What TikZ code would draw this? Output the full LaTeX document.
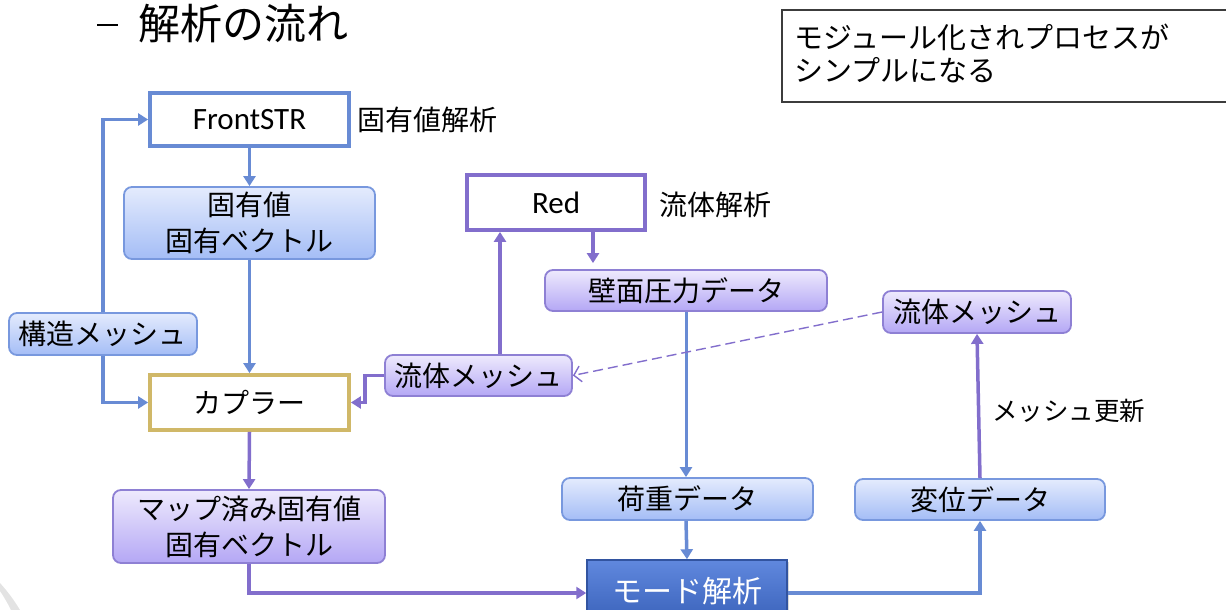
\documentclass[tikz,border=0pt]{standalone}
\usepackage{fontspec}
\setmainfont{Noto Sans CJK JP}
\newfontfamily\lat{Carlito}
\usetikzlibrary{arrows.meta,shadows}
\definecolor{bline}{RGB}{104,139,212}
\definecolor{pline}{RGB}{130,110,204}
\definecolor{btop}{RGB}{228,235,253}
\definecolor{bbot}{RGB}{164,189,246}
\definecolor{bbord}{RGB}{120,152,222}
\definecolor{ptop}{RGB}{238,234,253}
\definecolor{pbot}{RGB}{180,167,245}
\definecolor{pbord}{RGB}{142,128,212}
\definecolor{gold}{RGB}{208,184,104}
\definecolor{modetop}{RGB}{96,136,222}
\definecolor{modebot}{RGB}{58,98,186}
\definecolor{modebord}{RGB}{50,84,160}
\definecolor{notebord}{RGB}{60,60,60}
\tikzset{
  x=1pt, y=-1pt,
  txt/.style={font=\fontsize{28}{36}\selectfont, text=black},
  bbox/.style={draw=bbord, line width=1.8pt, rounded corners=8pt, top color=btop, bottom color=bbot, align=center, inner sep=0pt, txt},
  pbox/.style={draw=pbord, line width=1.8pt, rounded corners=8pt, top color=ptop, bottom color=pbot, align=center, inner sep=0pt, txt},
  plainbox/.style={fill=white, line width=3.8pt, inner sep=0pt, font=\lat\fontsize{31}{36}\selectfont},
  lbl/.style={anchor=west, inner sep=0pt, txt},
  barrow/.style={draw=bline, line width=3.5pt, -{Triangle[length=10pt,width=12pt]}},
  parrow/.style={draw=pline, line width=3.5pt, -{Triangle[length=10pt,width=12pt]}},
}
\begin{document}
\begin{tikzpicture}
\useasboundingbox (0,0) rectangle (1226,610);
\clip (0,0) rectangle (1226,610);

% slide decoration
\fill[gray!22] (0,583) .. controls (8,592) and (14,600) .. (20,610) -- (11,610) .. controls (7,602) and (4,597) .. (0,591) -- cycle;

% title
\node[inner sep=0pt] (dash) at (107.5,25) {\rule{21pt}{2.6pt}};
\node[anchor=west, inner sep=0pt, font=\fontsize{42}{42}\selectfont] (title) at (138,24) {解析の流れ};

% note box
\draw[notebord, line width=1.5pt] (782,10) rectangle (1240,102);
\node[anchor=north west, inner sep=0pt, align=left, font=\fontsize{29}{33}\selectfont] (note) at (794,24) {モジュール化されプロセスが\\シンプルになる};

% nodes
\node[plainbox, draw=bline, minimum width=199pt, minimum height=53pt] (front) at (249.5,119.5) {FrontSTR};
\node[lbl] (frontlbl) at (357,120) {固有値解析};
\node[bbox, minimum width=251pt, minimum height=72pt] (eig) at (249.5,223) {固有値\\固有ベクトル};
\node[bbox, minimum width=188pt, minimum height=42pt] (kozo) at (103,334) {構造メッシュ};
\node[plainbox, draw=gold, minimum width=199pt, minimum height=55pt, txt] (coupler) at (249.5,402.5) {カプラー};
\node[pbox, minimum width=272pt, minimum height=73pt] (map) at (249,526.5) {マップ済み固有値\\固有ベクトル};
\node[plainbox, draw=pline, minimum width=178pt, minimum height=55pt] (red) at (556,202.5) {Red};
\node[lbl] (redlbl) at (659,205) {流体解析};
\node[pbox, minimum width=282pt, minimum height=41pt] (wall) at (686,290.5) {壁面圧力データ};
\node[pbox, minimum width=187pt, minimum height=41pt] (fmL) at (478.5,375.5) {流体メッシュ};
\node[pbox, minimum width=188pt, minimum height=42pt] (fmR) at (977,312) {流体メッシュ};
\node[bbox, minimum width=251pt, minimum height=42pt] (load) at (687.5,499) {荷重データ};
\node[bbox, minimum width=250pt, minimum height=41pt] (disp) at (980,499.5) {変位データ};
\node[draw=modebord, line width=1.5pt, top color=modetop, bottom color=modebot, inner sep=0pt,
      minimum width=200pt, minimum height=62pt, text=white, font=\fontsize{30}{34}\selectfont,
      drop shadow={shadow xshift=2pt, shadow yshift=-2pt, opacity=0.3}] (mode) at (687,591) {\raisebox{3pt}{モード解析}};
\node[lbl, font=\fontsize{25.5}{30}\selectfont] (updlbl) at (992,411) {メッシュ更新};

% connectors
\draw[barrow] (front.south) -- (eig.north);
\draw[barrow] (eig.south) -- (coupler.north);
\draw[barrow] (kozo.north) |- (front.west);
\draw[barrow] (kozo.south) |- (coupler.west);
\draw[parrow] (fmL.west) -- ++(-19,0) |- (coupler.east);
\draw[parrow] ([xshift=21.5pt]fmL.north) -- ([xshift=-56pt]red.south);
\draw[parrow, shorten >=6pt] ([xshift=37pt]red.south) -- ([xshift=-93pt]wall.north);
\draw[barrow, line width=3pt] (wall.south) -- (wall.south |- load.north);
\draw[barrow] ([xshift=-1.5pt]load.south) -- (mode.north);
\draw[parrow] (coupler.south) -- (map.north);
\draw[parrow] (map.south) |- ([yshift=-2pt]mode.west);
\draw[barrow] ([yshift=-2pt]mode.east) -| (disp.south);
\draw[parrow] (disp.north) -- (fmR.south);
\draw[draw=pline, line width=1.4pt, dash pattern=on 10pt off 5pt, -{Straight Barb[length=7pt,width=16pt]}] (fmR.west) -- (fmL.east);
\end{tikzpicture}
\end{document}
